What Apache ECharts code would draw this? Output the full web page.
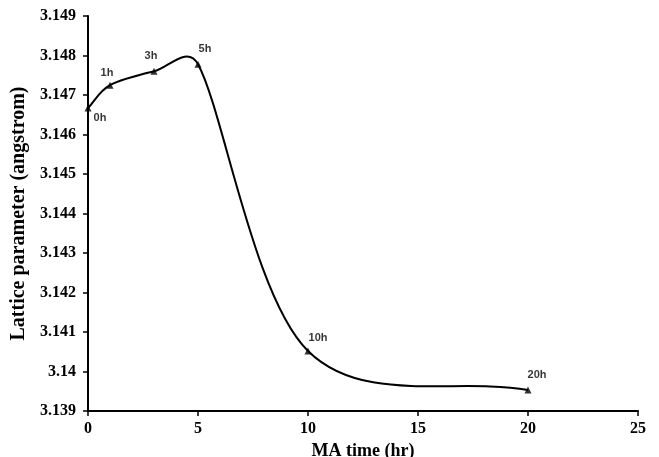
<!DOCTYPE html>
<html><head><meta charset="utf-8">
<script src="https://cdn.jsdelivr.net/npm/echarts@6/dist/echarts.min.js"></script>
<style>html,body{margin:0;padding:0;background:#fff}#c{width:659px;height:457px}</style>
</head><body><div id="c"></div>
<script>
const times = [0, 1, 3, 5, 10, 20];
const lattice = [3.14667, 3.14725, 3.14760, 3.14778, 3.14052, 3.13953];
const pointLabels = ['0h', '1h', '3h', '5h', '10h', '20h'];
const xTicks = [0, 5, 10, 15, 20, 25];
const yTicks = [3.139, 3.140, 3.141, 3.142, 3.143, 3.144, 3.145, 3.146, 3.147, 3.148, 3.149];

// label offsets relative to the marker centre (style, not data)
const labelOffsets = [[12, 10], [-3, -12], [-3, -15], [7, -15], [10, -13], [9, -15]];

const pairs = times.map((t, i) => [t, lattice[i]]);

// Excel-like smoothed line: cubic Bezier segments through the points
function controlOffset(pts, i, side) {
  const n = pts.length;
  const p = pts[i];
  const prev = pts[Math.max(i - 1, 0)];
  const next = pts[Math.min(i + 1, n - 1)];
  let tx = next[0] - prev[0], ty = next[1] - prev[1];
  let f = (i === 0 || i === n - 1) ? 1 / 3 : 1 / 6;
  const len = Math.hypot(tx, ty) || 1;
  const nb = side < 0 ? prev : next;
  const dSide = Math.hypot(nb[0] - p[0], nb[1] - p[1]);
  const L = Math.min(len * f, dSide / 2);
  return [tx / len * L, ty / len * L];
}

function renderSegment(params, api) {
  const i = params.dataIndex;
  if (i >= pairs.length - 1) return null;
  const pts = pairs.map(d => api.coord(d));
  const a = pts[i], b = pts[i + 1];
  const o1 = controlOffset(pts, i, 1);
  const o2 = controlOffset(pts, i + 1, -1);
  return {
    type: 'bezierCurve',
    shape: {
      x1: a[0], y1: a[1], x2: b[0], y2: b[1],
      cpx1: a[0] + o1[0], cpy1: a[1] + o1[1],
      cpx2: b[0] - o2[0], cpy2: b[1] - o2[1]
    },
    style: {stroke: '#000', lineWidth: 2, fill: null}
  };
}

const axisFont = {fontFamily: 'Liberation Serif', fontWeight: 'bold', fontSize: 16, color: '#000'};
const chart = echarts.init(document.getElementById('c'));
chart.setOption({
  animation: false,
  grid: {left: 88, right: 21, top: 16, bottom: 46, containLabel: false, outerBoundsMode: 'none'},
  xAxis: {
    type: 'value', min: xTicks[0], max: xTicks[xTicks.length - 1], interval: 5,
    name: 'MA time (hr)', nameLocation: 'middle', nameGap: 31,
    nameTextStyle: {fontFamily: 'Liberation Serif', fontWeight: 'bold', fontSize: 18, color: '#000'},
    axisLine: {lineStyle: {color: '#000', width: 2}},
    axisTick: {show: true, length: 5, lineStyle: {color: '#000', width: 1.5}},
    axisLabel: Object.assign({margin: 10}, axisFont),
    splitLine: {show: false}
  },
  yAxis: {
    type: 'value', min: yTicks[0], max: yTicks[yTicks.length - 1], interval: 0.001,
    name: 'Lattice parameter (angstrom)', nameLocation: 'middle', nameGap: 54,
    nameTextStyle: {fontFamily: 'Liberation Serif', fontWeight: 'bold', fontSize: 20, color: '#000'},
    axisLine: {show: true, lineStyle: {color: '#000', width: 2}},
    axisTick: {show: true, length: 5, lineStyle: {color: '#000', width: 1.5}},
    axisLabel: Object.assign({margin: 12, formatter: v => String(parseFloat(v.toFixed(3)))}, axisFont),
    splitLine: {show: false}
  },
  series: [{
    type: 'custom',
    renderItem: renderSegment,
    data: pairs,
    encode: {x: 0, y: 1},
    clip: false,
    z: 2
  }, {
    type: 'scatter',
    data: pairs.map((d, i) => ({
      value: d,
      label: {show: true, formatter: pointLabels[i], position: 'inside', offset: labelOffsets[i]}
    })),
    symbol: 'triangle',
    symbolSize: 7,
    itemStyle: {color: '#000'},
    label: {fontFamily: 'Liberation Sans', fontWeight: 'bold', fontSize: 11, color: '#000'},
    z: 3
  }]
});
</script></body></html>
